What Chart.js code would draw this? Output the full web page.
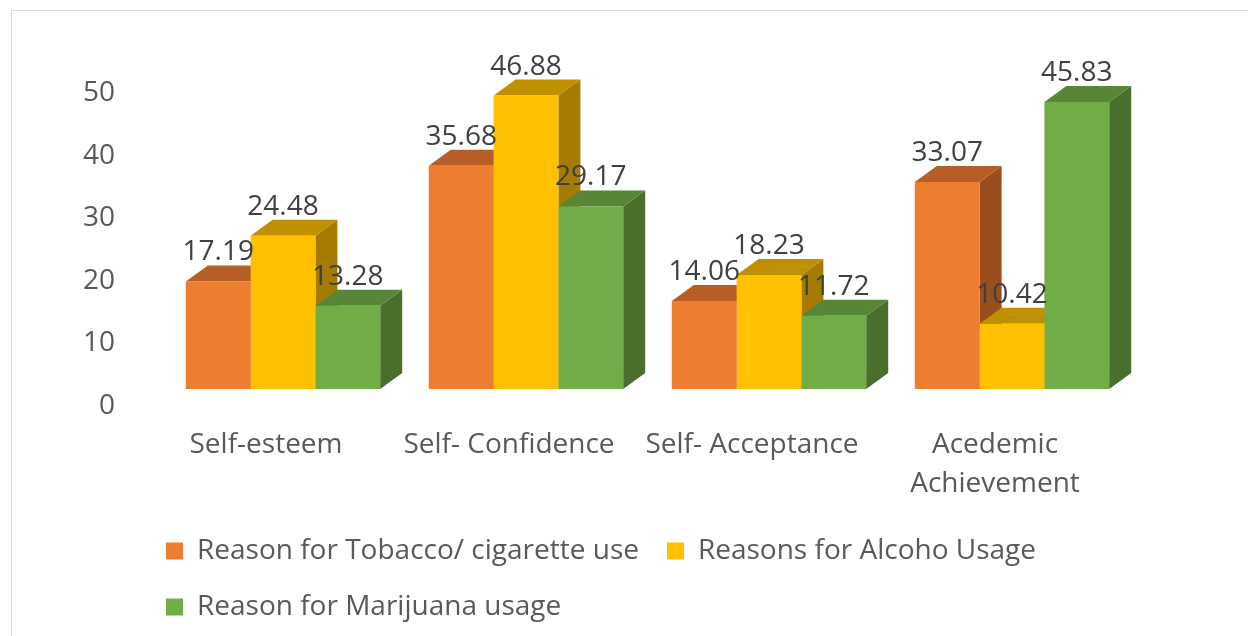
<!DOCTYPE html>
<html>
<head>
<meta charset="utf-8">
<script src="https://cdn.jsdelivr.net/npm/chart.js@4.4.1/dist/chart.umd.min.js"></script>
<style>
  html, body { margin: 0; padding: 0; background: #fff; }
  canvas { display: block; }
</style>
</head>
<body>
<canvas id="chart" width="1248" height="636"></canvas>
<script>
// Chart data
const categories = ['Self-esteem', 'Self- Confidence', 'Self- Acceptance', ['Acedemic', 'Achievement']];
const seriesNames = ['Reason for Tobacco/ cigarette use', 'Reasons for Alcoho Usage', 'Reason for Marijuana usage'];
const tobaccoValues = [17.19, 35.68, 14.06, 33.07];
const alcoholValues = [24.48, 46.88, 18.23, 10.42];
const marijuanaValues = [13.28, 29.17, 11.72, 45.83];
const yTickMin = 0;
const yTickMax = 50;
const yTickStep = 10;

// Colours: front, top face, side face
const frontColors = ['#ED7D31', '#FFC000', '#70AD47'];
const topColors = ['#B65E25', '#C09000', '#578636'];
const sideColors = ['#9A4E1D', '#A67C00', '#4A6E2C'];

const DX = 22, DY = 16;   // 3D depth offset
const FONT = '"Open Sans", "Noto Sans", sans-serif';
const LEGEND_LEFT = 138;

const depthPlugin = {
    id: 'depth',
    afterLayout(chart) {
        // legend rows start further right than the canvas edge
        if (chart.legend) chart.legend.left = LEGEND_LEFT;
    },
    beforeDraw(chart) {
        const ctx = chart.ctx;
        ctx.save();
        ctx.fillStyle = '#fff';
        ctx.fillRect(0, 0, chart.width, chart.height);
        ctx.strokeStyle = '#d9d9d9';
        ctx.lineWidth = 1;
        ctx.beginPath();
        ctx.moveTo(11.5, chart.height);
        ctx.lineTo(11.5, 10.5);
        ctx.lineTo(chart.width, 10.5);
        ctx.stroke();
        ctx.restore();
    },
    beforeDatasetsDraw(chart) {
        const ctx = chart.ctx;
        ctx.save();
        chart.data.datasets.forEach((ds, i) => {
            chart.getDatasetMeta(i).data.forEach(bar => {
                const p = bar.getProps(['x', 'y', 'base', 'width'], true);
                const l = p.x - p.width / 2, r = p.x + p.width / 2;
                // side face
                ctx.fillStyle = sideColors[i];
                ctx.beginPath();
                ctx.moveTo(r, p.y);
                ctx.lineTo(r + DX, p.y - DY);
                ctx.lineTo(r + DX, p.base - DY);
                ctx.lineTo(r, p.base);
                ctx.closePath();
                ctx.fill();
                // top face
                ctx.fillStyle = topColors[i];
                ctx.beginPath();
                ctx.moveTo(l, p.y);
                ctx.lineTo(r, p.y);
                ctx.lineTo(r + DX, p.y - DY);
                ctx.lineTo(l + DX, p.y - DY);
                ctx.closePath();
                ctx.fill();
            });
        });
        ctx.restore();
    },
    afterDatasetsDraw(chart) {
        const ctx = chart.ctx;
        ctx.save();
        ctx.font = '28px ' + FONT;
        ctx.fillStyle = '#404040';
        ctx.textAlign = 'center';
        ctx.textBaseline = 'alphabetic';
        chart.data.datasets.forEach((ds, i) => {
            chart.getDatasetMeta(i).data.forEach((bar, j) => {
                const p = bar.getProps(['x', 'y'], true);
                ctx.fillText(ds.data[j].toFixed(2), p.x, p.y - DY - 5);
            });
        });
        ctx.restore();
    }
};

const seriesValues = [tobaccoValues, alcoholValues, marijuanaValues];

new Chart(document.getElementById('chart'), {
    type: 'bar',
    data: {
        labels: categories,
        datasets: seriesValues.map((vals, i) => ({
            label: seriesNames[i],
            data: vals,
            backgroundColor: frontColors[i],
            borderWidth: 0,
            categoryPercentage: 0.8,
            barPercentage: 1.0
        }))
    },
    options: {
        responsive: false,
        animation: false,
        layout: { padding: { left: 0, right: 114.5, top: 76, bottom: 5 } },
        plugins: {
            tooltip: { enabled: false },
            legend: {
                position: 'bottom',
                align: 'start',
                labels: {
                    boxWidth: 17,
                    boxHeight: 17,
                    padding: 28,
                    color: '#595959',
                    font: { family: FONT, size: 28 }
                }
            }
        },
        scales: {
            x: {
                grid: { display: false, drawTicks: false },
                border: { display: false },
                ticks: {
                    color: '#595959',
                    font: { family: FONT, size: 28, lineHeight: 1.39 },
                    padding: 37,
                    labelOffset: -17,
                    maxRotation: 0,
                    autoSkip: false
                },
                afterFit(scale) { scale.height = 120; }
            },
            y: {
                min: yTickMin,
                max: yTickMax,
                grid: { display: false, drawTicks: false },
                border: { display: false },
                ticks: {
                    stepSize: yTickStep,
                    color: '#595959',
                    font: { family: FONT, size: 28 },
                    padding: 46.5,
                    labelOffset: 17
                },
                afterFit(scale) { scale.width = 161.5; }
            }
        }
    },
    plugins: [depthPlugin]
});
</script>
</body>
</html>
